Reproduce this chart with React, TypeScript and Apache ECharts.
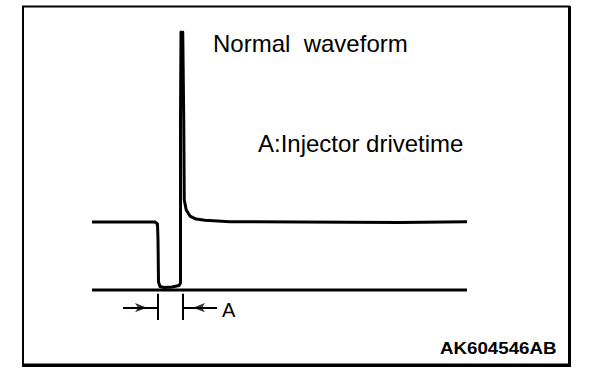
import React, { useEffect, useRef } from "react";
import * as echarts from "echarts";

// Injector drive waveform (time in ms, voltage in V)
const waveTime = [0, 2.52, 2.62, 2.64, 2.66, 2.72, 2.88, 3.2, 3.48, 3.54, 3.54, 3.56, 3.63, 3.67, 3.69, 3.77, 3.92, 4.16, 4.52, 5.52, 8.32, 12.32, 15];
const waveVolt = [15.8, 15.8, 15.35, 11.6, 1.86, 0.81, 0.58, 0.7, 1.05, 1.63, 39.5, 60, 60, 39.5, 20.9, 18.6, 17.2, 16.5, 16.2, 15.9, 15.8, 15.7, 15.9];

// Zero-volt reference line
const baseTime = [0, 15];
const baseVolt = [0, 0];

// Drive time "A" dimension: edges and arrows
const edgeTimes = [2.64, 3.64];
const tickVolt = [-0.9, -7];
const arrowVolt = -4.1;
const arrowLineStart = [1.24, 3.64];
const arrowLineEnd = [2.64, 5.0];
const arrowHeadTimes = [2.2, 4.04];
const arrowHeadRotate = [-90, 90];

const titleText = "Normal  waveform";
const legendText = "A:Injector drivetime";
const dimLabel = "A";
const codeText = "AK604546AB";

export default function App() {
  const ref = useRef<HTMLDivElement>(null);
  useEffect(() => {
    if (!ref.current) return;
    const chart = echarts.init(ref.current, undefined, { renderer: "svg" });
    const font = "Liberation Sans, Arial, Helvetica, sans-serif";
    chart.setOption({
      animation: false,
      backgroundColor: "#ffffff",
      grid: { left: 92, right: 141, top: 32, bottom: 51 },
      xAxis: { type: "value", min: 0, max: 15, show: false },
      yAxis: { type: "value", min: -10, max: 60, show: false },
      series: [
        {
          type: "line",
          data: waveTime.map((t, i) => [t, waveVolt[i]]),
          showSymbol: false,
          silent: true,
          lineStyle: { color: "#000", width: 3, join: "round" },
        },
        {
          type: "line",
          data: baseTime.map((t, i) => [t, baseVolt[i]]),
          showSymbol: false,
          silent: true,
          lineStyle: { color: "#000", width: 3 },
          markLine: {
            silent: true,
            symbol: ["none", "none"],
            label: { show: false },
            lineStyle: { color: "#000", width: 2, type: "solid" },
            data: [
              ...edgeTimes.map((t) => [{ coord: [t, tickVolt[0]] }, { coord: [t, tickVolt[1]] }]),
              ...arrowLineStart.map((s, i) => [{ coord: [s, arrowVolt] }, { coord: [arrowLineEnd[i], arrowVolt] }]),
            ],
          },
        },
        {
          type: "scatter",
          silent: true,
          symbol: "arrow",
          symbolSize: [7, 12],
          itemStyle: { color: "#000" },
          data: arrowHeadTimes.map((t, i) => ({ value: [t, arrowVolt], symbolRotate: arrowHeadRotate[i] })),
        },
      ],
      graphic: [
        {
          type: "rect",
          silent: true,
          shape: { x: 23, y: 6.5, width: 546, height: 358 },
          style: { fill: "none", stroke: "#000", lineWidth: 2 },
        },
        {
          type: "polyline",
          silent: true,
          shape: { points: [[569.5, 6], [569.5, 365.5], [22, 365.5]] },
          style: { fill: "none", stroke: "#000", lineWidth: 3 },
        },
        {
          type: "text",
          x: 213,
          y: 43,
          style: { text: titleText, font: `24px ${font}`, fill: "#000", textVerticalAlign: "middle" },
        },
        {
          type: "text",
          x: 258,
          y: 143.5,
          style: { text: legendText, font: `24px ${font}`, fill: "#000", textVerticalAlign: "middle" },
        },
        {
          type: "text",
          x: 222,
          y: 310,
          style: { text: dimLabel, font: `20px ${font}`, fill: "#000", textVerticalAlign: "middle" },
        },
        {
          type: "text",
          x: 440,
          y: 348.5,
          scaleX: 1.17,
          style: { text: codeText, font: `bold 16px ${font}`, fill: "#000", textVerticalAlign: "middle" },
        },
      ],
    });
    return () => chart.dispose();
  }, []);
  return (
    <div
      ref={ref}
      style={{ position: "fixed", left: 0, top: 0, width: 608, height: 384, background: "#fff" }}
    />
  );
}
